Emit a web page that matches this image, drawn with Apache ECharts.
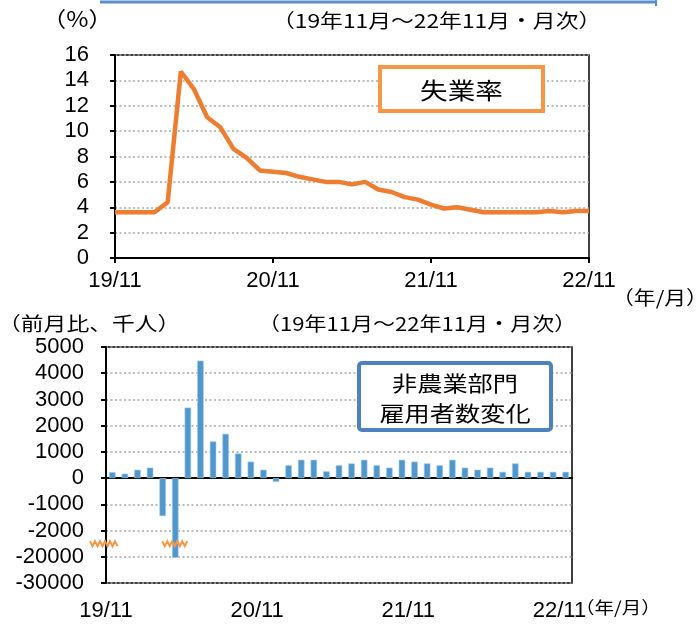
<!DOCTYPE html>
<html>
<head>
<meta charset="utf-8">
<script src="https://cdn.jsdelivr.net/npm/echarts@6/dist/echarts.min.js"></script>
<style>
html,body{margin:0;padding:0;background:#fff;}
#chart{width:697px;height:625px;}
</style>
</head>
<body>
<div id="chart"></div>
<script>
// ---- data ----
const months = ['19/11','19/12','20/1','20/2','20/3','20/4','20/5','20/6','20/7','20/8','20/9','20/10',
  '20/11','20/12','21/1','21/2','21/3','21/4','21/5','21/6','21/7','21/8','21/9','21/10',
  '21/11','21/12','22/1','22/2','22/3','22/4','22/5','22/6','22/7','22/8','22/9','22/10','22/11'];
const unemployment = [3.6,3.6,3.6,3.6,4.4,14.7,13.3,11.1,10.3,8.6,7.9,6.9,6.8,6.7,6.4,6.2,6.0,6.0,5.8,6.0,
  5.4,5.2,4.8,4.6,4.2,3.9,4.0,3.8,3.6,3.6,3.6,3.6,3.6,3.7,3.6,3.7,3.7];
const payrolls = [230,170,320,400,-1450,-20400,2690,4480,1400,1690,940,630,320,-140,
  490,700,700,260,490,560,700,490,400,700,630,560,490,700,400,320,400,240,560,240,240,240,240];
const xTickLabels = ['19/11','20/11','21/11','22/11'];
const yTickLabelsBottom = ['-30000','-20000','-2000','-1000','0','1000','2000','3000','4000','5000'];
const title1 = '（19年11月～22年11月・月次）';
const unit1 = '（%）';
const unit2 = '（前月比、千人）';
const legend1 = '失業率';
const legend2 = '非農業部門\n雇用者数変化';
const xUnit = '（年/月）';

// broken axis mapping for payrolls: above -2000 linear (1 unit = 1000), below the break 1 unit = 10000
function toBroken(v){ return v >= -2000 ? v/1000 : -3 + (v + 20000)/10000; }

const NUM = 'Liberation Sans, Arial, sans-serif';
const JP = 'Noto Sans CJK JP, sans-serif';
const dotted = {color:'#a6a6a6', width:1.5, type:[2,2.5]};

const chart = echarts.init(document.getElementById('chart'), null, {renderer:'canvas'});
const option = {
  animation:false,
  backgroundColor:'#fff',
  grid:[
    {left:115, top:55, width:474, height:203, show:true, borderColor:'#000', borderWidth:1.5, backgroundColor:'transparent'},
    {left:106, top:347, width:466, height:236, show:true, borderColor:'#000', borderWidth:1.5, backgroundColor:'transparent'}
  ],
  xAxis:[
    {type:'category', gridIndex:0, data:months, boundaryGap:false,
     axisLine:{lineStyle:{color:'#000', width:2}},
     axisTick:{interval:11, length:5, lineStyle:{color:'#000', width:2}},
     axisLabel:{interval:11, margin:12, color:'#000', fontSize:22, fontFamily:NUM},
     splitLine:{show:false}},
    {type:'category', gridIndex:1, data:months, boundaryGap:true,
     axisLine:{onZero:true, lineStyle:{color:'#000', width:2}},
     axisTick:{interval:11, length:6, lineStyle:{color:'#000', width:2}},
     axisLabel:{show:false}, splitLine:{show:false}},
    {type:'value', gridIndex:1, min:0, max:37, interval:12, position:'bottom',
     axisLine:{show:false, onZero:false}, axisTick:{show:false}, splitLine:{show:false},
     axisLabel:{margin:17, color:'#000', fontSize:22, fontFamily:NUM, showMaxLabel:false,
       formatter:function(v){ return xTickLabels[Math.round(v/12)] || ''; }}}
  ],
  yAxis:[
    {type:'value', gridIndex:0, min:0, max:16, interval:2,
     axisLine:{show:true, lineStyle:{color:'#000', width:2}},
     axisTick:{show:true, length:5, lineStyle:{color:'#000', width:2}},
     axisLabel:{margin:26, color:'#000', fontSize:22, fontFamily:NUM},
     splitLine:{show:true, lineStyle:dotted}},
    {type:'value', gridIndex:1, min:-4, max:5, interval:1,
     axisLine:{show:true, lineStyle:{color:'#000', width:2}},
     axisTick:{show:true, length:5, lineStyle:{color:'#000', width:2}},
     axisLabel:{margin:22, color:'#000', fontSize:22, fontFamily:NUM,
       formatter:function(v){ return yTickLabelsBottom[Math.round(v)+4]; }},
     splitLine:{show:true, lineStyle:dotted}}
  ],
  series:[
    {type:'line', xAxisIndex:0, yAxisIndex:0, data:unemployment, symbol:'none',
     lineStyle:{color:'#ED7D31', width:4.5}, z:3},
    {type:'bar', xAxisIndex:1, yAxisIndex:1, data:payrolls.map(toBroken), barWidth:6.5,
     itemStyle:{color:'#4F97CD', borderColor:'#A9CBE8', borderWidth:0.6}, z:2}
  ]
};
chart.setOption(option);

// decorations positioned through the chart's scales
function zigzag(x0, x1, y){
  const pts=[]; let up=true;
  for(let x=x0; x<=x1; x+=2.5){ pts.push([x, y + (up?-2.5:2.5)]); up=!up; }
  return pts;
}
function txt(text, x, y, size, sx, align){
  return {type:'text', x:x, y:y, scaleX:sx, z:11,
    style:{text:text, font:size+'px '+JP, fill:'#000', textAlign:align||'left', textVerticalAlign:'middle', lineHeight:30}};
}
const yBreak = chart.convertToPixel({yAxisIndex:1}, -2.5);
const xBar5 = chart.convertToPixel({xAxisIndex:1}, months[5]);
const gx = 106;
const g = [
  {type:'line', shape:{x1:100, y1:2, x2:657, y2:2}, style:{stroke:'#5B8FCB', lineWidth:3}},
  {type:'line', shape:{x1:656, y1:0, x2:656, y2:6}, style:{stroke:'#5B8FCB', lineWidth:2}},
  txt(unit1, 42, 19, 21, 1.15),
  txt(title1, 272, 21, 19, 1.2),
  txt(xUnit, 612, 298, 19, 1.15),
  {type:'rect', shape:{x:380, y:67, width:163, height:44}, style:{fill:'#fff', stroke:'#F79646', lineWidth:4}, z:10},
  txt(legend1, 461.5, 90, 23, 1.2, 'center'),
  txt(unit2, -2, 324, 19, 1.2),
  txt(title1, 258, 324, 19, 1.16),
  txt(xUnit, 575, 608, 17, 1.15),
  {type:'rect', shape:{x:359, y:363, width:192, height:67, r:3}, style:{fill:'#fff', stroke:'#4F81BD', lineWidth:4}, z:10},
  txt(legend2, 455, 398, 21, 1.2, 'center'),
  {type:'polyline', shape:{points:zigzag(gx-16, gx+13, yBreak)}, style:{stroke:'#F79646', lineWidth:2, fill:null}, z:12},
  {type:'polyline', shape:{points:zigzag(xBar5-13, xBar5+14, yBreak)}, style:{stroke:'#F79646', lineWidth:2, fill:null}, z:12}
];
chart.setOption({graphic:g});
</script>
</body>
</html>
